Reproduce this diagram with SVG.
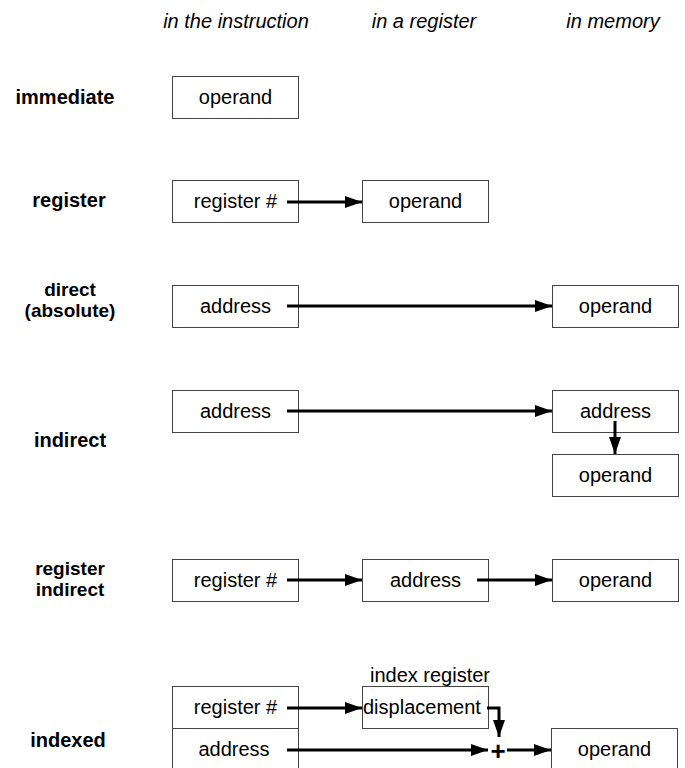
<svg xmlns="http://www.w3.org/2000/svg" width="685" height="768" viewBox="0 0 685 768">
<style>
text{font-family:"Liberation Sans",Arial,sans-serif;font-size:20px;fill:#000}
.hd{font-style:italic;text-anchor:middle}
.lbl{font-weight:bold;text-anchor:middle}
.l2{font-size:19px}
.t{text-anchor:middle}
.box{fill:#fff;stroke:#444;stroke-width:1}
.ar{stroke:#000;stroke-width:3;fill:none;marker-end:url(#ah)}
</style>
<defs>
<marker id="ah" markerUnits="userSpaceOnUse" markerWidth="18" markerHeight="12" refX="17" refY="6" orient="auto">
<path d="M0,0 L17,6 L0,12 z" fill="#000"/>
</marker>
</defs>
<g id="headers">
<text class="hd" x="236" y="28">in the instruction</text>
<text class="hd" x="424" y="28">in a register</text>
<text class="hd" x="613" y="28">in memory</text>
</g>
<g id="labels">
<text class="lbl" x="65" y="104">immediate</text>
<text class="lbl" x="69" y="207">register</text>
<text class="lbl l2" x="70" y="296">direct</text>
<text class="lbl l2" x="70" y="317">(absolute)</text>
<text class="lbl" x="70" y="447">indirect</text>
<text class="lbl l2" x="70" y="575">register</text>
<text class="lbl l2" x="70" y="596">indirect</text>
<text class="lbl" x="68" y="747">indexed</text>
</g>
<g id="imm-operand"><rect class="box" x="172.5" y="76.5" width="126" height="42"/><text class="t" x="235.5" y="104">operand</text></g>
<g id="reg-regnum"><rect class="box" x="172.5" y="180.5" width="126" height="42"/><text class="t" x="235.5" y="208">register #</text></g>
<g id="reg-operand"><rect class="box" x="362.5" y="180.5" width="126" height="42"/><text class="t" x="425.5" y="208">operand</text></g>
<g id="dir-address"><rect class="box" x="172.5" y="285.5" width="126" height="42"/><text class="t" x="235.5" y="313">address</text></g>
<g id="dir-operand"><rect class="box" x="552.5" y="285.5" width="126" height="42"/><text class="t" x="615.5" y="313">operand</text></g>
<g id="ind-address"><rect class="box" x="172.5" y="390.5" width="126" height="42"/><text class="t" x="235.5" y="418">address</text></g>
<g id="ind-maddress"><rect class="box" x="552.5" y="390.5" width="126" height="42"/><text class="t" x="615.5" y="418">address</text></g>
<g id="ind-operand"><rect class="box" x="552.5" y="454.5" width="126" height="42"/><text class="t" x="615.5" y="482">operand</text></g>
<g id="ri-regnum"><rect class="box" x="172.5" y="559.5" width="126" height="42"/><text class="t" x="235.5" y="587">register #</text></g>
<g id="ri-address"><rect class="box" x="362.5" y="559.5" width="126" height="42"/><text class="t" x="425.5" y="587">address</text></g>
<g id="ri-operand"><rect class="box" x="552.5" y="559.5" width="126" height="42"/><text class="t" x="615.5" y="587">operand</text></g>
<g id="ix-regnum"><rect class="box" x="172.5" y="686.5" width="126" height="42"/><text class="t" x="235.5" y="714">register #</text></g>
<g id="ix-address"><rect class="box" x="172.5" y="728.5" width="126" height="42"/><text class="t" x="234" y="756">address</text></g>
<g id="ix-disp"><text class="t" x="430" y="682">index register</text><rect class="box" x="362.5" y="686.5" width="126" height="42"/><text x="363" y="714">displacement</text></g>
<g id="ix-plus"><text class="t" x="498" y="760" style="font-weight:bold;font-size:26px">+</text></g>
<g id="ix-operand"><rect class="box" x="551.5" y="728.5" width="126" height="42"/><text class="t" x="614.5" y="756">operand</text></g>
<g id="connectors">
<line class="ar" x1="287" y1="202" x2="362" y2="202"/>
<line class="ar" x1="287" y1="306" x2="552" y2="306"/>
<line class="ar" x1="287" y1="411" x2="552" y2="411"/>
<line class="ar" x1="615" y1="421" x2="615" y2="454"/>
<line class="ar" x1="287" y1="580" x2="362" y2="580"/>
<line class="ar" x1="477" y1="580" x2="552" y2="580"/>
<line class="ar" x1="287" y1="708" x2="362" y2="708"/>
<polyline class="ar" points="487,708 499,708 499,737"/>
<line class="ar" x1="287" y1="750" x2="488" y2="750"/>
<line class="ar" x1="507" y1="750" x2="551" y2="750"/>
</g>
</svg>
